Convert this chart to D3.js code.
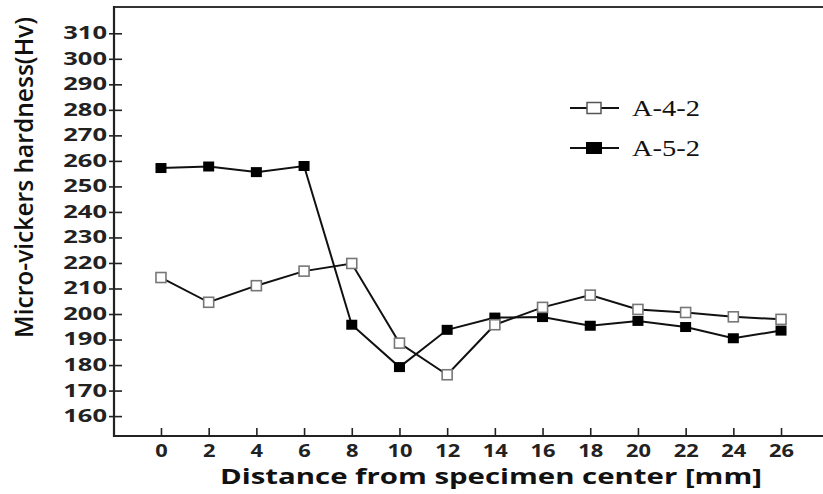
<!DOCTYPE html>
<html>
<head>
<meta charset="utf-8">
<script src="https://cdn.jsdelivr.net/npm/d3@7"></script>
<style>
  html, body { margin: 0; padding: 0; background: #fff; }
  svg { display: block; }
</style>
</head>
<body>
<svg id="chart" width="823" height="494"></svg>
<script>
// ---- data ----
const distances = [0, 2, 4, 6, 8, 10, 12, 14, 16, 18, 20, 22, 24, 26];
const seriesNames = ["A-4-2", "A-5-2"];
const a42 = [214.3, 204.6, 211.1, 216.8, 219.8, 188.6, 176.2, 195.8, 202.6, 207.4, 201.8, 200.6, 198.9, 197.9];
const a52 = [257.2, 257.8, 255.6, 258.0, 195.8, 179.2, 193.8, 198.6, 198.8, 195.4, 197.3, 194.9, 190.5, 193.5];
const xTicks = [0, 2, 4, 6, 8, 10, 12, 14, 16, 18, 20, 22, 24, 26];
const yTicks = [160, 170, 180, 190, 200, 210, 220, 230, 240, 250, 260, 270, 280, 290, 300, 310];
const xTitle = "Distance from specimen center [mm]";
const yTitle = "Micro-vickers hardness(Hv)";

(function () {
// ---- layout ----
const svg = d3.select("#chart");
const pL = 114, pR = 823, pT = 7, pB = 436;

const x = d3.scaleLinear().domain([-1.97, 27.76]).range([pL, pR]);
const y = d3.scaleLinear().domain([152.2, 320.3]).range([pB, pT]);

const sans = "'Open Sans', 'Noto Sans', sans-serif";

// frame: top border
svg.append("line")
  .attr("x1", pL).attr("x2", pR).attr("y1", pT).attr("y2", pT)
  .attr("stroke", "#333").attr("stroke-width", 2.2);

// y axis
const yAxis = svg.append("g").attr("transform", `translate(${pL},0)`)
  .call(d3.axisLeft(y).tickValues(yTicks).tickSize(5).tickPadding(3));
yAxis.select(".domain").remove();
yAxis.selectAll(".tick line").attr("x2", 8).attr("x1", -5).attr("stroke", "#222").attr("stroke-width", 1.6);
yAxis.selectAll(".tick text")
  .attr("x", -7)
  .attr("font-family", sans).attr("font-weight", 700).attr("font-size", 17)
  .attr("fill", "#222")
  .attr("textLength", d => String(d).length * 14.6)
  .attr("lengthAdjust", "spacingAndGlyphs");
svg.append("line")
  .attr("x1", pL).attr("x2", pL).attr("y1", pT - 1).attr("y2", pB + 1)
  .attr("stroke", "#222").attr("stroke-width", 2.2);

// x axis
const xAxis = svg.append("g").attr("transform", `translate(0,${pB})`)
  .call(d3.axisBottom(x).tickValues(xTicks).tickSize(8).tickPadding(7));
xAxis.select(".domain").remove();
xAxis.selectAll(".tick line").attr("y1", 0).attr("y2", -8).attr("stroke", "#222").attr("stroke-width", 1.6);
xAxis.selectAll(".tick text")
  .attr("y", 20.5).attr("dy", 0)
  .attr("font-family", sans).attr("font-weight", 700).attr("font-size", 17)
  .attr("fill", "#222")
  .attr("textLength", d => String(d).length * 12.5)
  .attr("lengthAdjust", "spacingAndGlyphs");
svg.append("line")
  .attr("x1", pL - 1).attr("x2", pR).attr("y1", pB).attr("y2", pB)
  .attr("stroke", "#222").attr("stroke-width", 2.2);

// axis titles
svg.append("text")
  .attr("x", 491).attr("y", 484)
  .attr("text-anchor", "middle")
  .attr("font-family", sans).attr("font-weight", 700).attr("font-size", 21)
  .attr("fill", "#111")
  .attr("textLength", 542).attr("lengthAdjust", "spacingAndGlyphs")
  .text(xTitle);

svg.append("text")
  .attr("transform", "translate(33,177.5) rotate(-90)")
  .attr("text-anchor", "middle")
  .attr("font-family", sans).attr("font-weight", 600).attr("font-size", 25)
  .attr("fill", "#111")
  .attr("textLength", 321).attr("lengthAdjust", "spacingAndGlyphs")
  .text(yTitle);

// series
const line = d3.line().x(d => x(d[0])).y(d => y(d[1]));
const d42 = distances.map((d, i) => [d, a42[i]]);
const d52 = distances.map((d, i) => [d, a52[i]]);

svg.append("path").datum(d52).attr("d", line)
  .attr("fill", "none").attr("stroke", "#111").attr("stroke-width", 2);
svg.append("path").datum(d42).attr("d", line)
  .attr("fill", "none").attr("stroke", "#111").attr("stroke-width", 2);

const ms = 10;
svg.append("g").selectAll("rect").data(d52).join("rect")
  .attr("x", d => x(d[0]) - ms / 2 - 0.5).attr("y", d => y(d[1]) - ms / 2)
  .attr("width", ms + 1).attr("height", ms)
  .attr("fill", "#000");
svg.append("g").selectAll("rect").data(d42).join("rect")
  .attr("x", d => x(d[0]) - ms / 2).attr("y", d => y(d[1]) - ms / 2)
  .attr("width", ms).attr("height", ms)
  .attr("fill", "#fff").attr("stroke", "#777").attr("stroke-width", 1.6);

// legend
const legendY = [108, 148];
const lg = svg.append("g");
seriesNames.forEach((name, i) => {
  const ly = legendY[i];
  lg.append("line").attr("x1", 570).attr("x2", 619).attr("y1", ly).attr("y2", ly)
    .attr("stroke", "#111").attr("stroke-width", 2);
  if (i === 0) {
    lg.append("rect").attr("x", 587).attr("y", ly - 5.5).attr("width", 14).attr("height", 11)
      .attr("fill", "#fff").attr("stroke", "#555").attr("stroke-width", 1.5);
  } else {
    lg.append("rect").attr("x", 586).attr("y", ly - 6).attr("width", 16).attr("height", 12)
      .attr("fill", "#000");
  }
  lg.append("text").attr("x", 632).attr("y", ly + 7.5)
    .attr("font-family", "'Liberation Serif', 'DejaVu Serif', serif").attr("font-size", 24)
    .attr("fill", "#111")
    .attr("textLength", 68).attr("lengthAdjust", "spacingAndGlyphs")
    .text(name);
});
})();
</script>
</body>
</html>
